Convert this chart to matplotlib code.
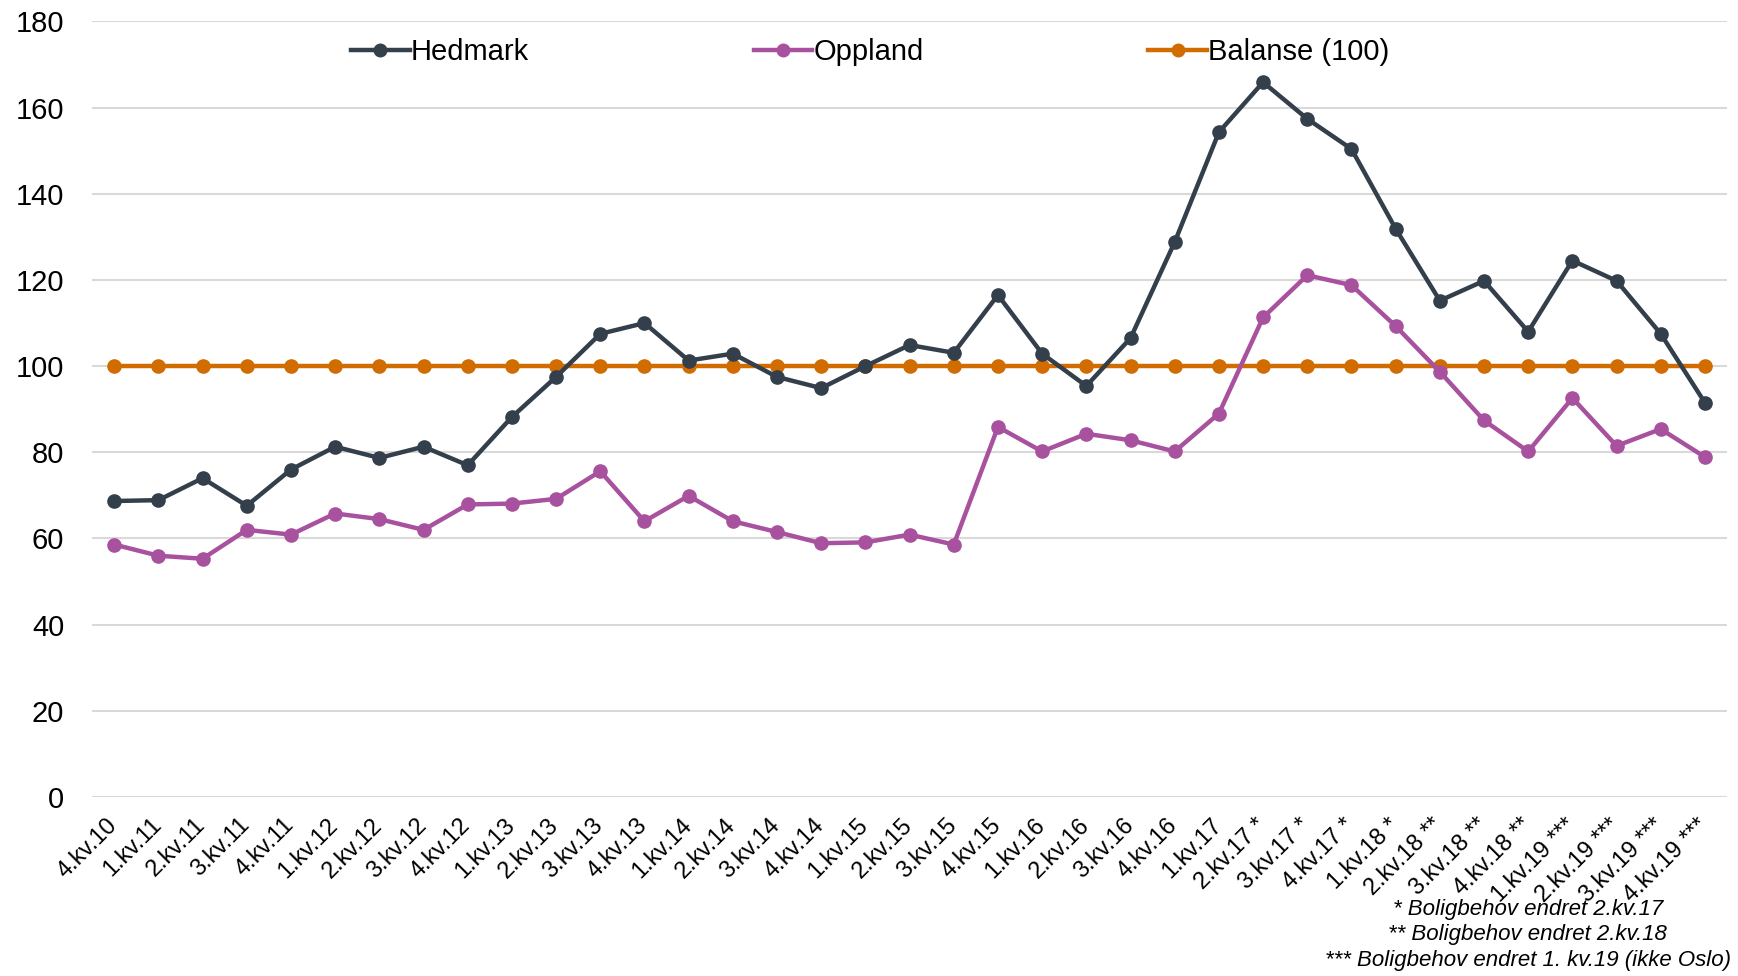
import numpy as np
import matplotlib.pyplot as plt
import matplotlib.transforms as mtransforms

plt.rcParams['font.family'] = ['Liberation Sans', 'DejaVu Sans']

quarters = ['4.kv.10', '1.kv.11', '2.kv.11', '3.kv.11', '4.kv.11',
            '1.kv.12', '2.kv.12', '3.kv.12', '4.kv.12',
            '1.kv.13', '2.kv.13', '3.kv.13', '4.kv.13',
            '1.kv.14', '2.kv.14', '3.kv.14', '4.kv.14',
            '1.kv.15', '2.kv.15', '3.kv.15', '4.kv.15',
            '1.kv.16', '2.kv.16', '3.kv.16', '4.kv.16',
            '1.kv.17', '2.kv.17 *', '3.kv.17 *', '4.kv.17 *',
            '1.kv.18 *', '2.kv.18 **', '3.kv.18 **', '4.kv.18 **',
            '1.kv.19 ***', '2.kv.19 ***', '3.kv.19 ***', '4.kv.19 ***']

hedmark = [68.7, 68.9, 74.0, 67.6, 76.0, 81.3, 78.7, 81.3, 77.0,
           88.2, 97.5, 107.5, 110.0, 101.3, 102.9, 97.5, 94.9,
           100.0, 104.9, 103.1, 116.5, 102.9, 95.4, 106.5, 128.8,
           154.3, 165.9, 157.4, 150.4, 131.9, 115.2, 119.8, 108.0,
           124.5, 119.8, 107.5, 91.5]

oppland = [58.6, 56.0, 55.3, 62.0, 60.9, 65.8, 64.5, 62.0, 67.9,
           68.1, 69.2, 75.6, 64.0, 69.9, 64.0, 61.5, 58.9,
           59.1, 60.9, 58.6, 85.9, 80.2, 84.3, 82.8, 80.2,
           89.0, 111.3, 121.1, 118.8, 109.3, 98.7, 87.4, 80.2,
           92.6, 81.5, 85.4, 78.9]

balanse = [100] * len(quarters)

x = np.arange(len(quarters))

fig = plt.figure(figsize=(17.38, 9.76), dpi=100)
ax = fig.add_axes([0.053, 0.1834, 0.9407, 0.7946])

ax.plot(x, hedmark, color='#333f4b', lw=3.2, marker='o', ms=9.5, label='Hedmark', zorder=3)
ax.plot(x, oppland, color='#a8519e', lw=3.2, marker='o', ms=9.5, label='Oppland', zorder=3)
ax.plot(x, balanse, color='#d06c00', lw=3.2, marker='o', ms=9.5, label='Balanse (100)', zorder=2)

ax.set_xlim(-0.5, len(quarters) - 0.5)
ax.set_ylim(0, 180)
ax.set_yticks(range(0, 181, 20))
ax.tick_params(axis='y', labelsize=21, length=0, pad=20)
ax.set_xticks(x)
ax.set_xticklabels(quarters, rotation=45, ha='right', va='center',
                   rotation_mode='anchor', fontsize=17)
ax.tick_params(axis='x', length=0, pad=10)
# nudge rotated labels so their end sits under the tick
offset = mtransforms.ScaledTranslation(-0.005, -0.11, fig.dpi_scale_trans)
for lab in ax.get_xticklabels():
    lab.set_transform(lab.get_transform() + offset)
ax.grid(axis='y', color='#d9d9d9', lw=1.5)
ax.set_axisbelow(True)
for s in ax.spines.values():
    s.set_visible(False)

ax.legend(loc='upper center', bbox_to_anchor=(0.476, 1.012), ncol=3, frameon=False,
          fontsize=21, handlelength=2.0, handletextpad=0.05, columnspacing=7.7,
          markerscale=0.95)

fig.text(0.879, 0.005, '* Boligbehov endret 2.kv.17\n** Boligbehov endret 2.kv.18\n'
         '*** Boligbehov endret 1. kv.19 (ikke Oslo)',
         ha='center', va='bottom', fontsize=16, style='italic', linespacing=1.3)

fig.savefig('out.png', dpi=100)
